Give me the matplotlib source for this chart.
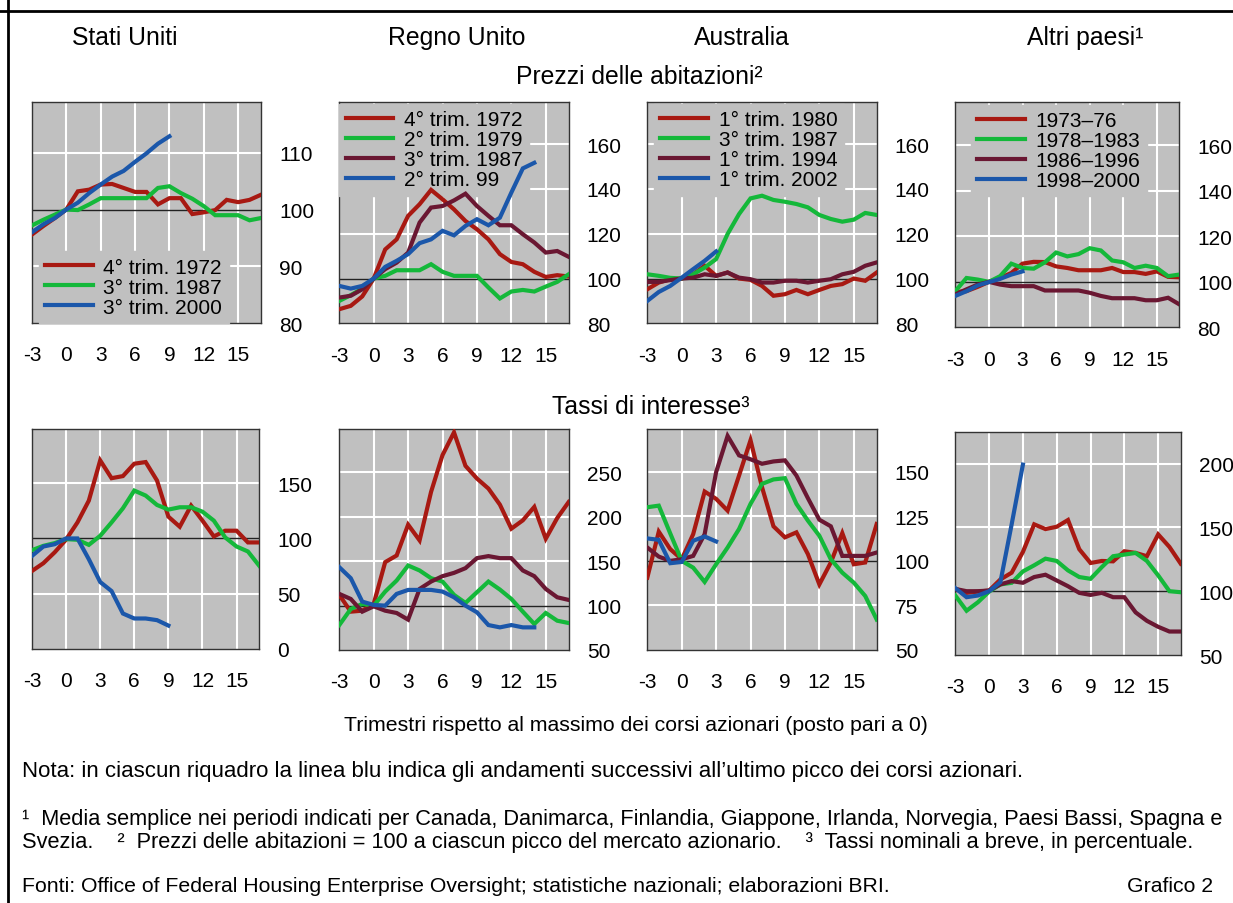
import numpy as np
import matplotlib
matplotlib.use("Agg")
import matplotlib.pyplot as plt
from matplotlib.lines import Line2D

plt.rcParams['font.family'] = ['Liberation Sans', 'DejaVu Sans']
plt.rcParams['axes.unicode_minus'] = False

W, H = 1233, 904

RED = '#A81912'
GREEN = '#14B83A'
MAROON = '#6A1732'
BLUE = '#1B57AA'
FACE = '#C0C0C0'

quarters = np.arange(-3, 18)
xticks = [-3, 0, 3, 6, 9, 12, 15]

# --- Prezzi delle abitazioni ---
us_price_labels = ['4° trim. 1972', '3° trim. 1987', '3° trim. 2000']
us_price_1972 = [95.6, 97.1, 98.5, 100, 103.2, 103.5, 104.4, 104.5, 103.8, 103.1, 103.1,
                 100.9, 102, 102, 99.2, 99.5, 99.9, 101.7, 101.3, 101.7, 102.6]
us_price_1987 = [97.2, 98.2, 99.1, 100, 99.9, 100.9, 102, 102, 102, 102, 102,
                 103.8, 104.1, 102.9, 101.9, 100.6, 99, 99, 99, 98.1, 98.5]
us_price_2000 = [96, 97.4, 98.5, 100, 101.2, 102.9, 104.4, 105.8, 106.8, 108.4, 109.9,
                 111.6, 112.9]

uk_price_labels = ['4° trim. 1972', '2° trim. 1979', '3° trim. 1987', '2° trim. 99']
uk_price_1972 = [86.3, 87.8, 92, 100, 113, 117.5, 128, 133.2, 139.6, 135.4, 130.9,
                 125.7, 122, 117.5, 110.9, 107.4, 106.4, 103, 100.7, 101.5, 100.9]
uk_price_1979 = [90, 92.6, 95.5, 100, 101.2, 103.7, 103.7, 103.7, 106.4, 103, 101.2,
                 101.2, 101.2, 96, 91.1, 94.2, 94.9, 94.2, 96.4, 98.5, 101.9]
uk_price_1987 = [91.5, 92.3, 95.2, 100, 104.2, 107.1, 111.6, 125, 131.7, 132.4, 134.9,
                 137.9, 132.4, 128, 123.8, 123.8, 119.8, 116.1, 111.6, 112.3, 109.7]
uk_price_1999 = [96.7, 95.5, 96.7, 100, 105.2, 107.9, 110.9, 115.8, 117.5, 121.3, 119.3,
                 123.5, 126.5, 123.8, 127.2, 138.4, 149.2, 151.7]

au_price_labels = ['1° trim. 1980', '3° trim. 1987', '1° trim. 1994', '1° trim. 2002']
au_price_1980 = [95.2, 98.2, 99.7, 100, 101.9, 105.7, 101.2, 102.7, 100, 99.4, 96.7,
                 92.3, 93, 94.9, 93, 94.9, 96.7, 97.5, 100, 99, 102.7]
au_price_1987 = [101.9, 101.2, 100.3, 100, 101.9, 104.9, 108.7, 119.9, 128.8, 135.8, 137,
                 135.1, 134.3, 133.3, 131.8, 128.4, 126.6, 125.4, 126.3, 129.3, 128.4]
au_price_1994 = [98.5, 98.5, 99.3, 100, 100.4, 101.9, 101.2, 102.7, 100.4, 99.7, 98.2,
                 98.2, 99, 99, 98.2, 99, 99.7, 101.9, 103, 105.7, 107.2]
au_price_2002 = [90, 94, 96.7, 100.4, 104.2, 107.9, 112.1]

ot_price_labels = ['1973–76', '1978–1983', '1986–1996', '1998–2000']
ot_price_7376 = [95.5, 95.9, 97.8, 100, 101.7, 103.9, 108, 108.8, 108.7, 106.8, 106.1,
                 105.1, 105.1, 105.1, 106.1, 104.3, 104.3, 103.5, 104.6, 102.2, 102]
ot_price_7883 = [95.9, 101.7, 101, 100, 102.5, 108, 106.1, 105.8, 108.6, 112.9, 111.2,
                 112.2, 114.8, 113.8, 109.4, 108.6, 106.1, 107.1, 106.1, 102.5, 103.2]
ot_price_8696 = [94.5, 96.7, 98.8, 100, 98.8, 98.1, 98.1, 98.1, 96.2, 96.2, 96.2,
                 96.2, 95.2, 93.8, 92.8, 92.8, 92.8, 91.9, 91.9, 93, 90.1]
ot_price_9800 = [93.8, 95.9, 98.4, 99.9, 101.3, 103.2, 104.6]

# --- Tassi di interesse ---
us_rate_1972 = [70.6, 77.6, 87.5, 99, 114.5, 134.2, 170.6, 154.5, 156.4, 167.6, 169.1,
                152.4, 119.7, 110.6, 129.7, 116.1, 101.8, 107, 107, 96.4, 96.4]
us_rate_1987 = [89.4, 93.3, 95.8, 99.4, 98.8, 94.2, 102.4, 114.5, 127.3, 143.3, 138.8,
                130.3, 126.1, 128.2, 128.2, 124.2, 116.1, 100.9, 92.7, 88.2, 75.2]
us_rate_2000 = [84.2, 92.7, 94.8, 100, 100, 81.2, 60.6, 52.4, 32.1, 27.6, 27.6,
                26.1, 21.2]

uk_rate_1972 = [112, 93.2, 94.3, 102, 149, 156.5, 191.2, 173.5, 228.1, 269.6, 295.2,
                257.5, 243.2, 231.9, 213.8, 186.7, 196.1, 211.2, 175.4, 198.7, 216.8]
uk_rate_1979 = [78.1, 96.2, 101.9, 100, 115.8, 128.3, 145.2, 139.6, 130.9, 127.1, 112.1,
                103, 115.1, 127.1, 118.1, 107.5, 93.2, 79.3, 91.7, 83, 80.4]
uk_rate_1987 = [113.2, 107.5, 93.2, 99.2, 94.3, 91.7, 84.2, 118.8, 127.1, 133.2, 136.9,
                142.2, 153.5, 155.8, 153.5, 153.5, 139.6, 133.2, 118.8, 109.4, 106.4]
uk_rate_1999 = [143.3, 130.9, 104.5, 100.8, 100, 113.2, 117.7, 117.7, 117.7, 115.8, 109.4,
                100, 92.5, 78.1, 75.5, 78.1, 75.5, 75.5]

au_rate_1980 = [90.6, 116.4, 106.6, 100.9, 115, 138.9, 134.8, 128.2, 147.9, 167.7, 141.4,
                119.4, 113.2, 116, 103.8, 86.8, 99.1, 115.6, 98.1, 99.1, 120.7]
au_rate_1987 = [130.1, 131, 115.4, 100, 96.2, 88.2, 98.1, 107.5, 117.9, 132, 143.2,
                145.7, 146.4, 132, 122.6, 114.1, 100.9, 93.4, 87.8, 80.3, 67.1]
au_rate_1994 = [107.5, 102.4, 100, 100.9, 102.8, 115, 149.8, 170.1, 159.2, 157, 154.5,
                155.8, 156.4, 147.9, 135.2, 123.1, 119.4, 102.8, 102.8, 102.8, 104.7]
au_rate_2002 = [112.6, 111.8, 98.7, 99.4, 111.3, 113.7, 110.9]

ot_rate_7376 = [101.8, 98.7, 99.7, 100.5, 109.2, 114.5, 130.8, 152.4, 148.7, 150.5, 155.8,
                132.9, 122.1, 123.7, 123.4, 131.3, 130, 127.4, 144.5, 134.7, 121.6]
ot_rate_7883 = [96.6, 84.7, 91.3, 99.7, 105.3, 106.6, 115.5, 120.3, 125.5, 123.7, 116.3,
                111.1, 109.7, 118.9, 127.4, 128.7, 130, 123.7, 112.4, 100, 99.2]
ot_rate_8696 = [101.8, 100, 100, 100.5, 105.3, 107.9, 106.6, 111.1, 112.9, 108.4, 103.9,
                98.7, 97.1, 98.7, 95.3, 95.3, 83.4, 76.8, 72.1, 68.4, 68.4]
ot_rate_9800 = [102.4, 95.3, 96.6, 100, 107.1, 152.4, 199.2]


def box(left, top, right, bottom):
    return [left / W, 1 - bottom / H, (right - left) / W, (bottom - top) / H]


def panel(rect, series, colors, ylim, yticks, xpad=16):
    ax = fig.add_axes(box(*rect))
    ax.set_facecolor(FACE)
    for v in yticks:
        if v != 100 and ylim[0] < v < ylim[1]:
            ax.axhline(v, color='white', lw=1.5, zorder=1)
    for v in xticks[1:]:
        ax.axvline(v, color='white', lw=1.5, zorder=1)
    ax.axhline(100, color='#222222', lw=1, zorder=2)
    lines = []
    for vals, c in zip(series, colors):
        ln, = ax.plot(quarters[:len(vals)], vals, color=c, lw=3, zorder=3,
                      solid_joinstyle='miter')
        lines.append(ln)
    ax.set_xlim(-3, 17)
    ax.set_ylim(*ylim)
    ax.set_xticks(xticks)
    ax.set_yticks(yticks)
    ax.yaxis.tick_right()
    ax.tick_params(axis='y', length=0, pad=13, labelsize=15)
    ax.tick_params(axis='x', length=0, pad=xpad, labelsize=15)
    for s in ax.spines.values():
        s.set_color('#333333')
        s.set_linewidth(1)
    return ax, lines


def legend(ax, lines, labels, loc, anchor):
    lg = ax.legend(lines, labels, loc=loc, bbox_to_anchor=anchor, fontsize=15,
                   frameon=True, facecolor=FACE, edgecolor=FACE, framealpha=1,
                   fancybox=False, borderpad=0.3, borderaxespad=0,
                   handlelength=2.3, handletextpad=0.5, labelspacing=0.05)
    lg.set_zorder(2.5)


fig = plt.figure(figsize=(W / 100, H / 100), dpi=100)

c3 = [RED, GREEN, BLUE]
c4 = [RED, GREEN, MAROON, BLUE]

ax, ls = panel((32, 102.7, 261, 324), [us_price_1972, us_price_1987, us_price_2000], c3,
               (80, 119), [80, 90, 100, 110])
legend(ax, ls, us_price_labels, 'lower left', (0.03, 0.0))
ax, ls = panel((339.3, 102.7, 568.7, 324.3),
               [uk_price_1972, uk_price_1979, uk_price_1987, uk_price_1999], c4,
               (80, 179), [80, 100, 120, 140, 160])
legend(ax, ls, uk_price_labels, 'upper left', (0.0, 0.99))
ax, ls = panel((647.3, 102.7, 876.7, 324.3),
               [au_price_1980, au_price_1987, au_price_1994, au_price_2002], c4,
               (80, 179), [80, 100, 120, 140, 160])
legend(ax, ls, au_price_labels, 'upper left', (0.03, 0.99))
ax, ls = panel((955.3, 103.3, 1179.3, 328.3),
               [ot_price_7376, ot_price_7883, ot_price_8696, ot_price_9800], c4,
               (80, 179), [80, 100, 120, 140, 160])
legend(ax, ls, ot_price_labels, 'upper left', (0.07, 0.99))

panel((32, 430, 259.3, 650), [us_rate_1972, us_rate_1987, us_rate_2000], c3,
      (0, 199), [0, 50, 100, 150])
panel((339.3, 430, 568.7, 651), [uk_rate_1972, uk_rate_1979, uk_rate_1987, uk_rate_1999],
      c4, (50, 299), [50, 100, 150, 200, 250])
panel((647.3, 430, 876.7, 651), [au_rate_1980, au_rate_1987, au_rate_1994, au_rate_2002],
      c4, (50, 174), [50, 75, 100, 125, 150])
panel((955.3, 432.7, 1180.7, 656), [ot_rate_7376, ot_rate_7883, ot_rate_8696, ot_rate_9800],
      c4, (50, 225), [50, 100, 150, 200])


def txt(x, y, s, size, ha='left'):
    fig.text(x / W, 1 - y / H, s, fontsize=size, ha=ha, va='center')


txt(124.5, 38, 'Stati Uniti', 17.8, 'center')
txt(457, 38, 'Regno Unito', 17.8, 'center')
txt(742, 38, 'Australia', 17.8, 'center')
txt(1085, 38, 'Altri paesi¹', 17.8, 'center')
txt(639, 77, 'Prezzi delle abitazioni²', 17.8, 'center')
txt(651, 407, 'Tassi di interesse³', 17.8, 'center')
txt(636, 726, 'Trimestri rispetto al massimo dei corsi azionari (posto pari a 0)', 15.3, 'center')
txt(22, 772, 'Nota: in ciascun riquadro la linea blu indica gli andamenti successivi '
    'all’ultimo picco dei corsi azionari.', 16)
txt(22, 819, '¹  Media semplice nei periodi indicati per Canada, Danimarca, Finlandia, '
    'Giappone, Irlanda, Norvegia, Paesi Bassi, Spagna e', 15.7)
txt(22, 843, 'Svezia.    ²  Prezzi delle abitazioni = 100 a ciascun picco del mercato '
    'azionario.    ³  Tassi nominali a breve, in percentuale.', 15.7)
txt(22, 887, 'Fonti: Office of Federal Housing Enterprise Oversight; statistiche nazionali; '
    'elaborazioni BRI.', 15.3)
txt(1213, 887, 'Grafico 2', 15.3, 'right')

fig.add_artist(Line2D([8 / W, 8 / W], [0, 1], color='black', lw=2))
fig.add_artist(Line2D([0, 1], [1 - 12 / H, 1 - 12 / H], color='black', lw=2))

fig.savefig('out.png', dpi=100)
